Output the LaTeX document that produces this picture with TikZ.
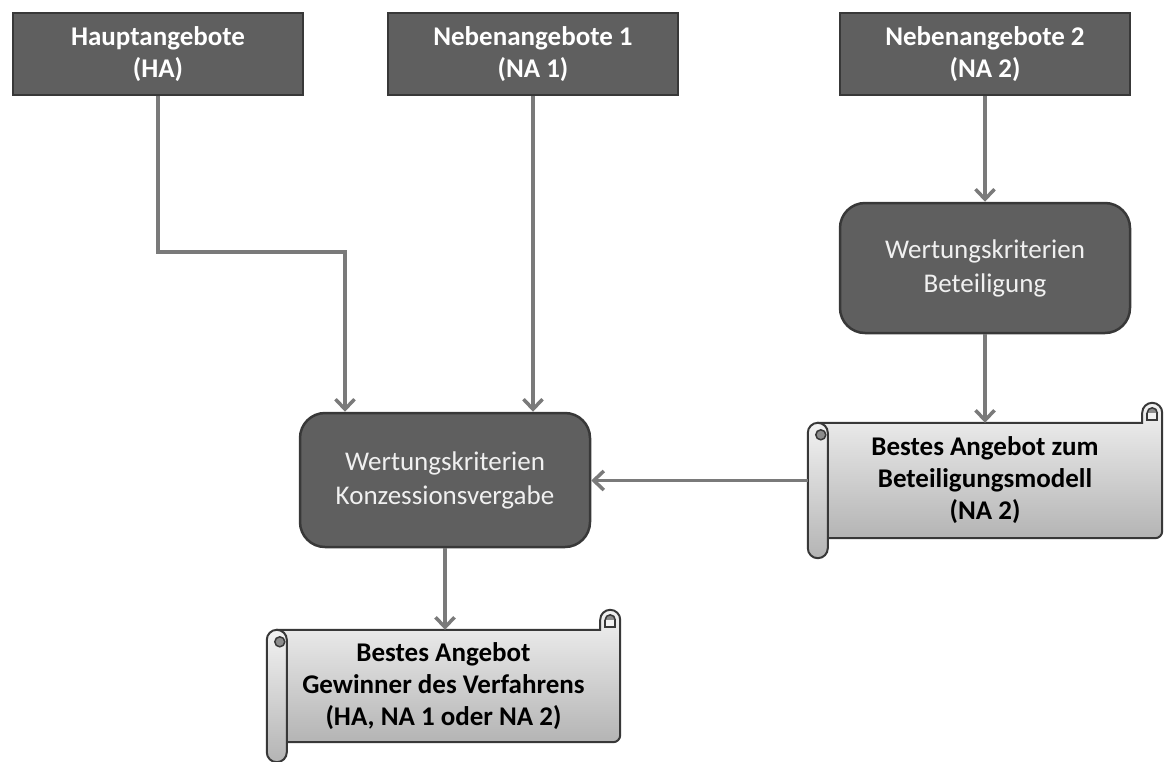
\documentclass[tikz,border=0pt]{standalone}
\usepackage{fontspec}
\setmainfont{Carlito}
\usetikzlibrary{arrows.meta,calc}
\definecolor{boxfill}{HTML}{5F5F5F}
\definecolor{boxline}{HTML}{383838}
\definecolor{arrowgray}{HTML}{7A7A7A}
\definecolor{scrolltop}{HTML}{F2F2F2}
\definecolor{scrollbot}{HTML}{B4B4B4}
\definecolor{curl}{HTML}{8C8C8C}
\tikzset{
  hdr/.style={draw=boxline, fill=boxfill, line width=2pt, minimum width=290pt, minimum height=82pt,
    text=white, align=center, font=\fontsize{27}{32}\selectfont\bfseries, inner sep=0pt},
  crit/.style={draw=boxline, fill=boxfill, line width=2.5pt, rounded corners=25pt, minimum width=290pt,
    text=white!94!black, align=center, font=\fontsize{27}{34}\selectfont, inner sep=0pt},
  scrolltext/.style={align=center, font=\fontsize{27}{32}\selectfont\bfseries, text=black, inner sep=0pt},
  arr/.style={draw=arrowgray, line width=3.5pt, -{Straight Barb[length=10pt,width=19pt,line width=3.5pt]}},
  scrollpart/.style={draw=boxline, line width=2pt, top color=scrolltop, bottom color=scrollbot},
}
\newcommand\drawscroll[1]{%
  % body
  \path let \p1=(#1.north west), \p2=(#1.south east) in
    [scrollpart] (\x1+10pt,\y1) -- (\x2-20pt,\y1) -- (\x2-20pt,\y1+10pt)
      arc[start angle=180,end angle=0,radius=10pt] -- (\x2,\y2+7pt)
      arc[start angle=0,end angle=-90,radius=7pt] -- (\x1+10pt,\y2) -- cycle;
  % right curl detail
  \path let \p1=(#1.north west), \p2=(#1.south east) in
    [draw=boxline, line width=1.5pt, fill=curl] (\x2-10pt,\y1+10pt) circle[radius=5pt];
  \path let \p1=(#1.north west), \p2=(#1.south east) in
    [draw=boxline, line width=1.5pt, fill=scrolltop] (\x2-15pt,\y1+10pt) -- (\x2-15pt,\y1+3pt) -- (\x2-5pt,\y1+3pt) -- (\x2-5pt,\y1+10pt);
  % left roll
  \path let \p1=(#1.north west), \p2=(#1.south east) in
    [scrollpart] (\x1,\y1-10pt) arc[start angle=180,end angle=0,radius=10pt]
      -- (\x1+20pt,\y2-10pt) arc[start angle=0,end angle=-180,radius=10pt] -- cycle;
  \path let \p1=(#1.north west), \p2=(#1.south east) in
    [draw=boxline, line width=1.5pt, fill=curl] (\x1+13pt,\y1-12pt) circle[radius=5pt];
}
\begin{document}
\begin{tikzpicture}[x=1pt,y=-1pt]
\useasboundingbox (0,0) rectangle (1167,761);
% header boxes
\node[hdr] (HA)  at (158,54) {Hauptangebote\\(HA)};
\node[hdr] (NA1) at (533,54) {Nebenangebote 1\\(NA 1)};
\node[hdr] (NA2) at (985,54) {Nebenangebote 2\\(NA 2)};
% criteria boxes
\node[crit, minimum height=130pt] (bet)  at (985,268) {Wertungskriterien\\Beteiligung};
\node[crit, minimum height=134pt] (konz) at (445,480) {Wertungskriterien\\Konzessionsvergabe};
% scrolls
\node[minimum width=354pt, minimum height=115pt, inner sep=0pt] (sr) at (985,480.5) {};
\drawscroll{sr}
\node[scrolltext] (srt) at (sr.center) {Bestes Angebot zum\\Beteiligungsmodell\\(NA 2)};
\node[minimum width=353pt, minimum height=112pt, inner sep=0pt] (sb) at (443.5,686) {};
\drawscroll{sb}
\node[scrolltext] (sbt) at (sb.center) {Bestes Angebot\\Gewinner des Verfahrens\\(HA, NA 1 oder NA 2)};
% connectors
\coordinate (hbend) at (345,252);
\draw[arr] (HA.south) |- (hbend) -- (hbend |- konz.north);
\draw[arr] (NA1.south) -- (NA1.south |- konz.north);
\draw[arr] (NA2.south) -- (bet.north);
\draw[arr] (bet.south) -- (sr.north);
\draw[arr] (sr.west) -- (konz.east |- sr.west);
\draw[arr] (konz.south) -- (konz.south |- sb.north);
\end{tikzpicture}
\end{document}
